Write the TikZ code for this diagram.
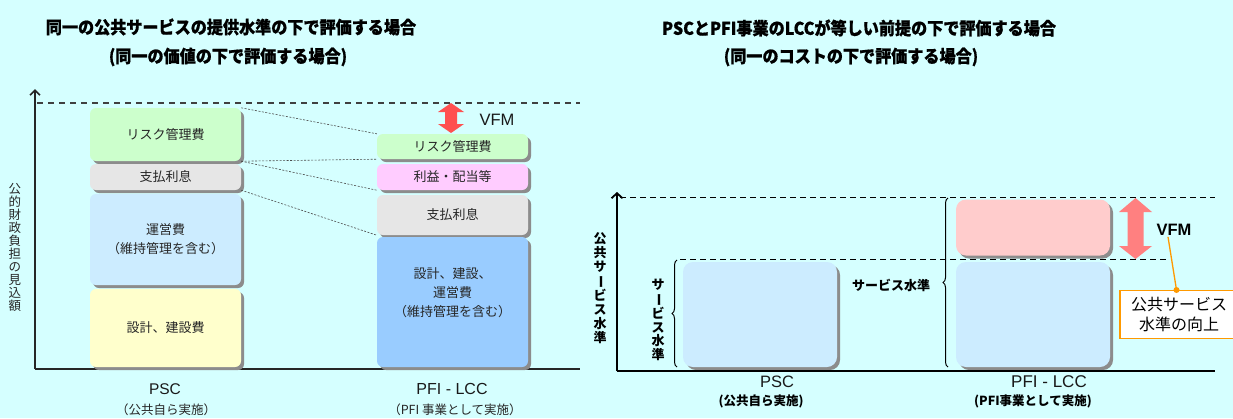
\documentclass[tikz,border=0pt]{standalone}
\usepackage{fontspec}
\usepackage{graphicx}
\setmainfont{Noto Sans CJK JP}
\newfontfamily\titlefont{Noto Sans CJK JP}[BoldFeatures={FakeBold=0.8}]
\newfontfamily\arialfont{Liberation Sans}
\usetikzlibrary{shadows,decorations.pathreplacing,arrows.meta}
\definecolor{bg}{HTML}{D5FFFF}
\definecolor{cgreen}{HTML}{CCFFCC}
\definecolor{cgray}{HTML}{E6E6E6}
\definecolor{clblue}{HTML}{CCECFF}
\definecolor{cyellow}{HTML}{FFFFCC}
\definecolor{cpink}{HTML}{FFCCFF}
\definecolor{cblue}{HTML}{99CCFF}
\definecolor{crose}{HTML}{FFCCCC}
\definecolor{vfmA}{HTML}{FF5050}
\definecolor{vfmB}{HTML}{FF8080}
\definecolor{corange}{HTML}{FF9900}
\newcommand{\vbar}{\rotatebox[origin=c]{-90}{ー}}
\newcommand{\ttl}[1]{\scalebox{0.92}[1]{#1}}
\begin{document}
\begin{tikzpicture}[x=1pt,y=-1pt,
  box/.style={rounded corners=6pt, inner sep=0pt, minimum width=151pt,
    drop shadow={shadow xshift=3pt,shadow yshift=-3pt,fill=black!45,opacity=1},
    font=\fontsize{13}{19}\selectfont, align=center, text=black!85},
  rbox/.style={rounded corners=10pt, inner sep=0pt, minimum width=154pt,
    drop shadow={shadow xshift=3pt,shadow yshift=-3pt,fill=black!45,opacity=1}},
  axis/.style={line width=2pt, black!85},
  axisR/.style={line width=2.6pt, black},
  dashline/.style={line width=1.1pt, black!75, dash pattern=on 6pt off 5pt},
  dashlineR/.style={line width=1pt, black, dash pattern=on 6pt off 4pt},
  dotline/.style={line width=0.6pt, black!70, dash pattern=on 2pt off 1.5pt},
  title/.style={font=\titlefont\fontsize{17.5}{20}\selectfont\bfseries, inner sep=0pt},
  lbl/.style={font=\fontsize{12.5}{14}\selectfont, inner sep=0pt, text=black!85},
  latin/.style={inner sep=0pt, text=black!90},
  brace/.style={decorate, decoration={brace, amplitude=5pt}, line width=1pt}
]
\fill[bg] (0,0) rectangle (1233,418);
\useasboundingbox (0,0) rectangle (1233,418);

% ---------- LEFT CHART ----------
\node[title] (t1) at (231,27) {\ttl{同一の公共サービスの提供水準の下で評価する場合}};
\node[title] (t2) at (228,57) {\ttl{(同一の価値の下で評価する場合)}};

\coordinate (lO) at (35,369);
\coordinate (lTop) at (35,89);
\coordinate (lEnd) at (580,369);
\coordinate (lD1) at (37,103);
\coordinate (lD2) at (580,103);
\draw[dashline] (lD1) -- (lD2);
\draw[axis,-{Straight Barb[length=5pt,width=10pt,line width=1.6pt]}] (lO) -- (lTop);
\draw[axis] (lO) -- (lEnd);

\node[lbl, align=center, font=\fontsize{12.5}{13}\selectfont] (lax) at (15,247)
  {公\\的\\財\\政\\負\\担\\の\\見\\込\\額};

% PSC column
\node[box,fill=cgreen,minimum height=53pt] (pR) at (165.5,134.5) {リスク管理費};
\node[box,fill=cgray,minimum height=26pt] (pP) at (165.5,177) {支払利息};
\node[box,fill=clblue,minimum height=91pt] (pO) at (165.5,239.5) {運営費\\（維持管理を含む）};
\node[box,fill=cyellow,minimum height=78pt] (pB) at (165.5,328) {設計、建設費};

% PFI column
\node[box,fill=cgreen,minimum height=25pt] (fR) at (452.5,146.5) {リスク管理費};
\node[box,fill=cpink,minimum height=26pt] (fPr) at (452.5,177) {利益・配当等};
\node[box,fill=cgray,minimum height=40pt] (fP) at (452.5,215) {支払利息};
\node[box,fill=cblue,minimum height=130pt] (fM) at (452.5,302) {設計、建設、\\運営費\\（維持管理を含む）\\[1pt]};

\draw[dotline] (pR.north east) -- (fR.north west);
\draw[dotline] (pR.south east) -- (fR.south west);
\draw[dotline] (pR.south east) -- (fPr.south west);
\draw[dotline] (pP.south east) -- (fP.south west);

% VFM arrow left
\fill[vfmA] (451,103) -- (464,112) -- (457,112) -- (457,124) -- (464,124) -- (451,133)
  -- (438,124) -- (445,124) -- (445,112) -- (438,112) -- cycle;
\node[latin, font=\arialfont\fontsize{16.5}{18}\selectfont] (vfmL) at (497,120) {VFM};

\node[latin, font=\arialfont\fontsize{15.5}{18}\selectfont] (pscL) at (165,389) {PSC};
\node[lbl] (pscLs) at (166,410) {（公共自ら実施）};
\node[latin, font=\arialfont\fontsize{16}{18}\selectfont] (pfiL) at (452,389) {PFI - LCC};
\node[lbl] (pfiLs) at (455,410) {（PFI 事業として実施）};

% ---------- RIGHT CHART ----------
\node[title] (t3) at (859,28) {\ttl{PSCとPFI事業のLCCが等しい前提の下で評価する場合}};
\node[title] (t4) at (851,57) {\ttl{(同一のコストの下で評価する場合)}};

\coordinate (rO) at (617,371);
\coordinate (rTop) at (617,192);
\coordinate (rEnd) at (1215,371);
\coordinate (rD1) at (620,197);
\coordinate (rD2) at (1215,197);
\coordinate (rE1) at (680,259);
\coordinate (rE2) at (1167,259);
\draw[dashlineR] (rD1) -- (rD2);
\draw[dashlineR] (rE1) -- (rE2);

\node[rbox,fill=clblue,minimum height=105pt] (rP) at (760,314.5) {};
\node[rbox,fill=crose,minimum height=56pt] (rF1) at (1033,227.5) {};
\node[rbox,fill=clblue,minimum height=105pt] (rF2) at (1033,314.5) {};

\draw[axisR,-{Straight Barb[length=5pt,width=11pt,line width=1.8pt]}] (rO) -- (rTop);
\draw[axisR] (rO) -- (rEnd);

\node[lbl, align=center, font=\fontsize{13}{13.8}\selectfont\bfseries, text=black] (rax) at (600,288)
  {公\\共\\サ\\\vbar\\ビ\\ス\\水\\準};

\coordinate (b1a) at (677,367);
\coordinate (b1b) at (677,260);
\draw[brace] (b1a) -- (b1b);
\node[lbl, align=center, font=\fontsize{13}{13.5}\selectfont\bfseries, text=black] (rsv) at (658,320)
  {サ\\\vbar\\ビ\\ス\\水\\準};

\coordinate (b2a) at (948,367);
\coordinate (b2b) at (948,198);
\draw[brace] (b2a) -- (b2b);
\node[font=\fontsize{13}{15}\selectfont\bfseries, inner sep=0pt] (rsh) at (891,285) {サービス水準};

% VFM arrow right
\fill[vfmB] (1135.5,198) -- (1152,212) -- (1143.5,212) -- (1143.5,246) -- (1152,246) -- (1135.5,259)
  -- (1119,246) -- (1127.5,246) -- (1127.5,212) -- (1119,212) -- cycle;
\node[latin, text=black, font=\arialfont\fontsize{16.5}{18}\selectfont\bfseries] (vfmR) at (1174,230) {VFM};

\node[draw=corange, line width=1.3pt, fill=white, minimum width=118pt, minimum height=48pt,
  inner sep=0pt, align=center, font=\fontsize{16}{20}\selectfont] (note) at (1179,314.5)
  {公共サービス\\水準の向上};
\draw[corange, line width=1.3pt] ([xshift=-6pt,yshift=-1pt]vfmR.south) -- (1176.5,290);
\fill[corange] (1176.5,290) circle (3pt);

\node[latin, font=\arialfont\fontsize{16.5}{18}\selectfont] (pscR) at (777,382) {PSC};
\node[font=\fontsize{12.5}{14}\selectfont\bfseries, inner sep=0pt] (pscRs) at (761,401) {(公共自ら実施)};
\node[latin, font=\arialfont\fontsize{17}{18}\selectfont] (pfiR) at (1049,382) {PFI - LCC};
\node[font=\fontsize{12.5}{14}\selectfont\bfseries, inner sep=0pt] (pfiRs) at (1033,401) {(PFI事業として実施)};
\end{tikzpicture}
\end{document}
